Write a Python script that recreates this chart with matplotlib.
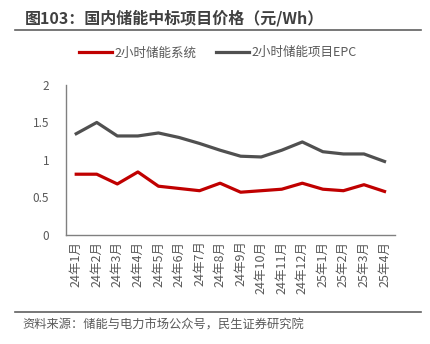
import matplotlib
matplotlib.use("Agg")
import matplotlib.pyplot as plt

plt.rcParams['font.family'] = ['Noto Sans CJK SC', 'DejaVu Sans']

months = ['24年1月', '24年2月', '24年3月', '24年4月', '24年5月', '24年6月',
          '24年7月', '24年8月', '24年9月', '24年10月', '24年11月', '24年12月',
          '25年1月', '25年2月', '25年3月', '25年4月']
system_2h = [0.81, 0.81, 0.68, 0.84, 0.65, 0.62, 0.59, 0.69, 0.57, 0.59,
             0.61, 0.69, 0.61, 0.59, 0.67, 0.58]
epc_2h = [1.35, 1.50, 1.32, 1.32, 1.36, 1.30, 1.22, 1.13, 1.05, 1.04,
          1.13, 1.24, 1.11, 1.08, 1.08, 0.98]

red = '#C00000'
gray = '#505050'
txt = '#595959'

fig = plt.figure(figsize=(4.31, 3.44), dpi=100)
ax = fig.add_axes([0.153, 0.317, 0.763, 0.436])

x = list(range(len(months)))
ax.plot(x, system_2h, color=red, lw=2.3, label='2小时储能系统')
ax.plot(x, epc_2h, color=gray, lw=2.3, label='2小时储能项目EPC')

ax.set_xlim(-0.5, len(months) - 0.5)
ax.set_ylim(0, 2)
ax.set_yticks([0, 0.5, 1, 1.5, 2])
ax.set_yticklabels(['0', '0.5', '1', '1.5', '2'])
ax.set_xticks(x)
ax.set_xticklabels(months, rotation=90)
ax.tick_params(axis='both', length=0, colors=txt, labelsize=8.5)
ax.tick_params(axis='x', labelsize=9, pad=4)
ax.tick_params(axis='y', pad=12)
for s in ['top', 'right']:
    ax.spines[s].set_visible(False)
for s in ['left', 'bottom']:
    ax.spines[s].set_color('#808080')
    ax.spines[s].set_linewidth(1)

fig.legend(loc='center', bbox_to_anchor=(0.505, 0.846), ncol=2, frameon=False,
           fontsize=9, handlelength=2.6, handletextpad=0.2, columnspacing=1.6,
           labelcolor=txt)

fig.text(0.058, 0.948, '图103：国内储能中标项目价格（元/Wh）', fontsize=11.5,
         fontweight='bold', color='#404040', va='center')
fig.add_artist(plt.Line2D([0.035, 0.977], [0.912, 0.912], color='#606060', lw=1.2))
fig.add_artist(plt.Line2D([0.035, 0.977], [0.093, 0.093], color='#606060', lw=1.2))
fig.text(0.053, 0.055, '资料来源：储能与电力市场公众号，民生证券研究院', fontsize=8.8,
         color=txt, va='center')

fig.savefig('out.png', dpi=100)
